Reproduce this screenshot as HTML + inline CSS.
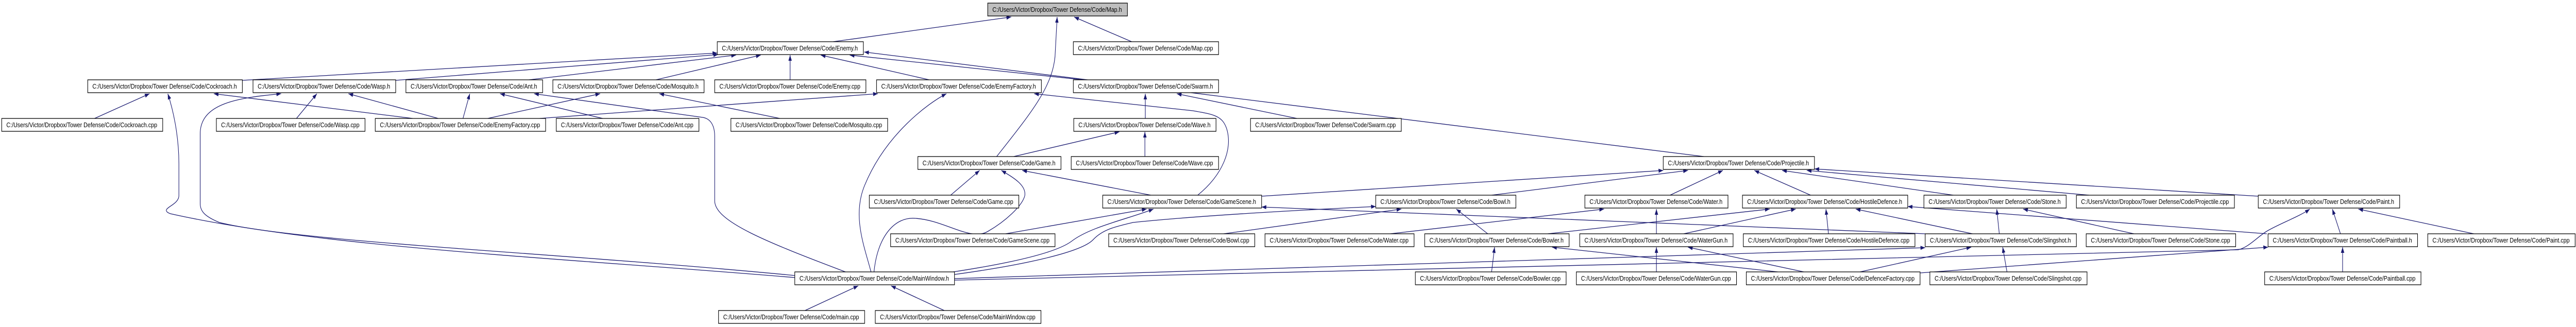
<!DOCTYPE html>
<html><head><meta charset="utf-8"><meta name="viewport" content="width=6048"><style>
html,body{margin:0;padding:0;background:#fff;overflow:hidden;width:100vw;height:100vh;}
svg{display:block;width:100vw;height:100vh;}
text{font-family:"Liberation Sans",Arial,sans-serif;font-size:13px;fill:#000;}
</style></head><body>
<svg viewBox="0 0 6048 635" preserveAspectRatio="none" xmlns="http://www.w3.org/2000/svg">
<defs><marker id="a" markerWidth="11" markerHeight="8" refX="11" refY="4" orient="auto" markerUnits="userSpaceOnUse"><path d="M0,0 L11,4 L0,8 z" fill="#191970"/></marker></defs>
<g fill="none" stroke="#191970" stroke-width="1.3" marker-end="url(#a)">
<path d="M1956,81 L2374,33"/>
<path d="M2340,304 C2420,220 2470,170 2477,110 L2482,33"/>
<path d="M2657,81 L2522,33"/>
<path d="M569,156 L1684,103"/>
<path d="M929,156 L1686,106"/>
<path d="M1232,156 L1728,107"/>
<path d="M1535,156 L1786,107"/>
<path d="M1855,156 L1855,107"/>
<path d="M2187,156 L1927,107"/>
<path d="M2554,156 L1995,107"/>
<path d="M4010,305 L2029,101"/>
<path d="M222,230 L351,182"/>
<path d="M969,230 L502,182"/>
<path d="M1866,539 C1300,500 750,480 400,415 C370,405 420,400 420,380 L420,318 C420,260 405,210 394,182"/>
<path d="M696,230 L744,182"/>
<path d="M1029,230 L818,182"/>
<path d="M1866,535 C1300,490 700,470 515,432 C480,420 470,410 470,395 L470,260 C470,200 560,190 660,182"/>
<path d="M1087,230 L1103,182"/>
<path d="M1415,230 L1174,182"/>
<path d="M1985,528 C1800,470 1678,430 1678,390 L1678,265 C1678,240 1665,230 1650,228 L1254,182"/>
<path d="M1145,230 L1409,182"/>
<path d="M1831,230 L1548,182"/>
<path d="M1267,230 L2061,182"/>
<path d="M2045,528 C2030,480 2000,420 2030,360 C2080,260 2180,200 2222,182"/>
<path d="M2812,379 C2870,340 2895,290 2880,250 C2870,225 2850,222 2800,215 L2428,182"/>
<path d="M2689,230 L2689,182"/>
<path d="M3045,230 L2763,182"/>
<path d="M2380,304 L2628,256"/>
<path d="M2688,304 L2688,256"/>
<path d="M2232,379 L2300,331"/>
<path d="M2052,528 C2060,460 2100,420 2150,424 C2220,428 2280,470 2320,449 C2360,430 2400,400 2406,380 C2410,360 2380,345 2351,331"/>
<path d="M2702,379 L2400,331"/>
<path d="M2361,454 L2692,406"/>
<path d="M2238,528 C2380,510 2480,490 2515,469 C2560,440 2650,425 2708,406"/>
<path d="M2241,533 C2400,515 2540,490 2567,465 C2590,445 2620,440 2660,432 C2800,420 3000,410 3230,401"/>
<path d="M2962,381 L3905,331"/>
<path d="M4520,454 L2962,402"/>
<path d="M2873,454 L3290,406"/>
<path d="M3493,454 L3419,406"/>
<path d="M3502,379 L3963,331"/>
<path d="M3921,379 L4045,331"/>
<path d="M4251,379 L4119,331"/>
<path d="M4586,379 L4184,331"/>
<path d="M4905,379 L4242,331"/>
<path d="M5302,381 L4260,328"/>
<path d="M3264,454 L3766,406"/>
<path d="M3889,454 L3889,406"/>
<path d="M3634,454 L4155,406"/>
<path d="M3953,454 L4216,406"/>
<path d="M4293,454 L4287,406"/>
<path d="M4631,454 L4357,406"/>
<path d="M5322,454 L4479,401"/>
<path d="M3889,528 L3889,480"/>
<path d="M4235,528 L3963,480"/>
<path d="M3502,528 L3509,480"/>
<path d="M4174,528 L3644,480"/>
<path d="M2241,541 L4520,481"/>
<path d="M2241,544 L5255,485 C5280,480 5300,460 5322,449 C5350,435 5400,420 5423,406"/>
<path d="M4508,530 L5325,480"/>
<path d="M4367,528 L4628,480"/>
<path d="M4712,528 L4702,480"/>
<path d="M4694,454 L4688,406"/>
<path d="M5010,454 L4750,406"/>
<path d="M5495,454 L5476,406"/>
<path d="M5808,454 L5537,406"/>
<path d="M5500,528 L5500,480"/>
<path d="M1890,603 L2015,555"/>
<path d="M2217,603 L2092,555"/>
</g>
<g stroke="#000" stroke-width="1.3">
<rect x="2319" y="6" width="328" height="25" fill="#bfbfbf"/><text x="2330" y="23" textLength="304" lengthAdjust="spacingAndGlyphs" stroke="none">C:/Users/Victor/Dropbox/Tower Defense/Code/Map.h</text>
<rect x="1684" y="81" width="343" height="25" fill="#fff"/><text x="1695" y="98" textLength="319" lengthAdjust="spacingAndGlyphs" stroke="none">C:/Users/Victor/Dropbox/Tower Defense/Code/Enemy.h</text>
<rect x="2520" y="81" width="341" height="25" fill="#fff"/><text x="2531" y="98" textLength="317" lengthAdjust="spacingAndGlyphs" stroke="none">C:/Users/Victor/Dropbox/Tower Defense/Code/Map.cpp</text>
<rect x="206" y="155" width="363" height="25" fill="#fff"/><text x="217" y="172" textLength="339" lengthAdjust="spacingAndGlyphs" stroke="none">C:/Users/Victor/Dropbox/Tower Defense/Code/Cockroach.h</text>
<rect x="594" y="155" width="335" height="25" fill="#fff"/><text x="605" y="172" textLength="311" lengthAdjust="spacingAndGlyphs" stroke="none">C:/Users/Victor/Dropbox/Tower Defense/Code/Wasp.h</text>
<rect x="953" y="155" width="321" height="25" fill="#fff"/><text x="964" y="172" textLength="297" lengthAdjust="spacingAndGlyphs" stroke="none">C:/Users/Victor/Dropbox/Tower Defense/Code/Ant.h</text>
<rect x="1298" y="155" width="355" height="25" fill="#fff"/><text x="1309" y="172" textLength="331" lengthAdjust="spacingAndGlyphs" stroke="none">C:/Users/Victor/Dropbox/Tower Defense/Code/Mosquito.h</text>
<rect x="1678" y="155" width="355" height="25" fill="#fff"/><text x="1689" y="172" textLength="331" lengthAdjust="spacingAndGlyphs" stroke="none">C:/Users/Victor/Dropbox/Tower Defense/Code/Enemy.cpp</text>
<rect x="2058" y="155" width="387" height="25" fill="#fff"/><text x="2069" y="172" textLength="363" lengthAdjust="spacingAndGlyphs" stroke="none">C:/Users/Victor/Dropbox/Tower Defense/Code/EnemyFactory.h</text>
<rect x="2520" y="155" width="341" height="25" fill="#fff"/><text x="2531" y="172" textLength="317" lengthAdjust="spacingAndGlyphs" stroke="none">C:/Users/Victor/Dropbox/Tower Defense/Code/Swarm.h</text>
<rect x="4" y="230" width="378" height="25" fill="#fff"/><text x="15" y="247" textLength="354" lengthAdjust="spacingAndGlyphs" stroke="none">C:/Users/Victor/Dropbox/Tower Defense/Code/Cockroach.cpp</text>
<rect x="508" y="230" width="349" height="25" fill="#fff"/><text x="519" y="247" textLength="325" lengthAdjust="spacingAndGlyphs" stroke="none">C:/Users/Victor/Dropbox/Tower Defense/Code/Wasp.cpp</text>
<rect x="881" y="230" width="400" height="25" fill="#fff"/><text x="892" y="247" textLength="376" lengthAdjust="spacingAndGlyphs" stroke="none">C:/Users/Victor/Dropbox/Tower Defense/Code/EnemyFactory.cpp</text>
<rect x="1306" y="230" width="335" height="25" fill="#fff"/><text x="1317" y="247" textLength="311" lengthAdjust="spacingAndGlyphs" stroke="none">C:/Users/Victor/Dropbox/Tower Defense/Code/Ant.cpp</text>
<rect x="1716" y="230" width="368" height="25" fill="#fff"/><text x="1727" y="247" textLength="344" lengthAdjust="spacingAndGlyphs" stroke="none">C:/Users/Victor/Dropbox/Tower Defense/Code/Mosquito.cpp</text>
<rect x="2521" y="230" width="334" height="25" fill="#fff"/><text x="2532" y="247" textLength="310" lengthAdjust="spacingAndGlyphs" stroke="none">C:/Users/Victor/Dropbox/Tower Defense/Code/Wave.h</text>
<rect x="2936" y="230" width="354" height="25" fill="#fff"/><text x="2947" y="247" textLength="330" lengthAdjust="spacingAndGlyphs" stroke="none">C:/Users/Victor/Dropbox/Tower Defense/Code/Swarm.cpp</text>
<rect x="2155" y="304" width="336" height="25" fill="#fff"/><text x="2166" y="321" textLength="312" lengthAdjust="spacingAndGlyphs" stroke="none">C:/Users/Victor/Dropbox/Tower Defense/Code/Game.h</text>
<rect x="2515" y="304" width="346" height="25" fill="#fff"/><text x="2526" y="321" textLength="322" lengthAdjust="spacingAndGlyphs" stroke="none">C:/Users/Victor/Dropbox/Tower Defense/Code/Wave.cpp</text>
<rect x="3905" y="304" width="355" height="25" fill="#fff"/><text x="3916" y="321" textLength="331" lengthAdjust="spacingAndGlyphs" stroke="none">C:/Users/Victor/Dropbox/Tower Defense/Code/Projectile.h</text>
<rect x="2041" y="379" width="351" height="25" fill="#fff"/><text x="2052" y="396" textLength="327" lengthAdjust="spacingAndGlyphs" stroke="none">C:/Users/Victor/Dropbox/Tower Defense/Code/Game.cpp</text>
<rect x="2589" y="379" width="373" height="25" fill="#fff"/><text x="2600" y="396" textLength="349" lengthAdjust="spacingAndGlyphs" stroke="none">C:/Users/Victor/Dropbox/Tower Defense/Code/GameScene.h</text>
<rect x="3230" y="379" width="329" height="25" fill="#fff"/><text x="3241" y="396" textLength="305" lengthAdjust="spacingAndGlyphs" stroke="none">C:/Users/Victor/Dropbox/Tower Defense/Code/Bowl.h</text>
<rect x="3721" y="379" width="336" height="25" fill="#fff"/><text x="3732" y="396" textLength="312" lengthAdjust="spacingAndGlyphs" stroke="none">C:/Users/Victor/Dropbox/Tower Defense/Code/Water.h</text>
<rect x="4091" y="379" width="388" height="25" fill="#fff"/><text x="4102" y="396" textLength="364" lengthAdjust="spacingAndGlyphs" stroke="none">C:/Users/Victor/Dropbox/Tower Defense/Code/HostileDefence.h</text>
<rect x="4517" y="379" width="334" height="25" fill="#fff"/><text x="4528" y="396" textLength="310" lengthAdjust="spacingAndGlyphs" stroke="none">C:/Users/Victor/Dropbox/Tower Defense/Code/Stone.h</text>
<rect x="4875" y="379" width="371" height="25" fill="#fff"/><text x="4886" y="396" textLength="347" lengthAdjust="spacingAndGlyphs" stroke="none">C:/Users/Victor/Dropbox/Tower Defense/Code/Projectile.cpp</text>
<rect x="5302" y="379" width="332" height="25" fill="#fff"/><text x="5313" y="396" textLength="308" lengthAdjust="spacingAndGlyphs" stroke="none">C:/Users/Victor/Dropbox/Tower Defense/Code/Paint.h</text>
<rect x="2091" y="454" width="386" height="25" fill="#fff"/><text x="2102" y="471" textLength="362" lengthAdjust="spacingAndGlyphs" stroke="none">C:/Users/Victor/Dropbox/Tower Defense/Code/GameScene.cpp</text>
<rect x="2603" y="454" width="343" height="25" fill="#fff"/><text x="2614" y="471" textLength="319" lengthAdjust="spacingAndGlyphs" stroke="none">C:/Users/Victor/Dropbox/Tower Defense/Code/Bowl.cpp</text>
<rect x="2970" y="454" width="350" height="25" fill="#fff"/><text x="2981" y="471" textLength="326" lengthAdjust="spacingAndGlyphs" stroke="none">C:/Users/Victor/Dropbox/Tower Defense/Code/Water.cpp</text>
<rect x="3345" y="454" width="339" height="25" fill="#fff"/><text x="3356" y="471" textLength="315" lengthAdjust="spacingAndGlyphs" stroke="none">C:/Users/Victor/Dropbox/Tower Defense/Code/Bowler.h</text>
<rect x="3709" y="454" width="360" height="25" fill="#fff"/><text x="3720" y="471" textLength="336" lengthAdjust="spacingAndGlyphs" stroke="none">C:/Users/Victor/Dropbox/Tower Defense/Code/WaterGun.h</text>
<rect x="4093" y="454" width="403" height="25" fill="#fff"/><text x="4104" y="471" textLength="379" lengthAdjust="spacingAndGlyphs" stroke="none">C:/Users/Victor/Dropbox/Tower Defense/Code/HostileDefence.cpp</text>
<rect x="4520" y="454" width="355" height="25" fill="#fff"/><text x="4531" y="471" textLength="331" lengthAdjust="spacingAndGlyphs" stroke="none">C:/Users/Victor/Dropbox/Tower Defense/Code/Slingshot.h</text>
<rect x="4898" y="454" width="351" height="25" fill="#fff"/><text x="4909" y="471" textLength="327" lengthAdjust="spacingAndGlyphs" stroke="none">C:/Users/Victor/Dropbox/Tower Defense/Code/Stone.cpp</text>
<rect x="5325" y="454" width="351" height="25" fill="#fff"/><text x="5336" y="471" textLength="327" lengthAdjust="spacingAndGlyphs" stroke="none">C:/Users/Victor/Dropbox/Tower Defense/Code/Paintball.h</text>
<rect x="5700" y="454" width="346" height="25" fill="#fff"/><text x="5711" y="471" textLength="322" lengthAdjust="spacingAndGlyphs" stroke="none">C:/Users/Victor/Dropbox/Tower Defense/Code/Paint.cpp</text>
<rect x="1866" y="528" width="375" height="25" fill="#fff"/><text x="1877" y="545" textLength="351" lengthAdjust="spacingAndGlyphs" stroke="none">C:/Users/Victor/Dropbox/Tower Defense/Code/MainWindow.h</text>
<rect x="3323" y="528" width="354" height="25" fill="#fff"/><text x="3334" y="545" textLength="330" lengthAdjust="spacingAndGlyphs" stroke="none">C:/Users/Victor/Dropbox/Tower Defense/Code/Bowler.cpp</text>
<rect x="3701" y="528" width="376" height="25" fill="#fff"/><text x="3712" y="545" textLength="352" lengthAdjust="spacingAndGlyphs" stroke="none">C:/Users/Victor/Dropbox/Tower Defense/Code/WaterGun.cpp</text>
<rect x="4100" y="528" width="408" height="25" fill="#fff"/><text x="4111" y="545" textLength="384" lengthAdjust="spacingAndGlyphs" stroke="none">C:/Users/Victor/Dropbox/Tower Defense/Code/DefenceFactory.cpp</text>
<rect x="4531" y="528" width="369" height="25" fill="#fff"/><text x="4542" y="545" textLength="345" lengthAdjust="spacingAndGlyphs" stroke="none">C:/Users/Victor/Dropbox/Tower Defense/Code/Slingshot.cpp</text>
<rect x="5317" y="528" width="367" height="25" fill="#fff"/><text x="5328" y="545" textLength="343" lengthAdjust="spacingAndGlyphs" stroke="none">C:/Users/Victor/Dropbox/Tower Defense/Code/Paintball.cpp</text>
<rect x="1687" y="603" width="343" height="25" fill="#fff"/><text x="1698" y="620" textLength="319" lengthAdjust="spacingAndGlyphs" stroke="none">C:/Users/Victor/Dropbox/Tower Defense/Code/main.cpp</text>
<rect x="2055" y="603" width="389" height="25" fill="#fff"/><text x="2066" y="620" textLength="365" lengthAdjust="spacingAndGlyphs" stroke="none">C:/Users/Victor/Dropbox/Tower Defense/Code/MainWindow.cpp</text>
</g>
</svg>
</body></html>
